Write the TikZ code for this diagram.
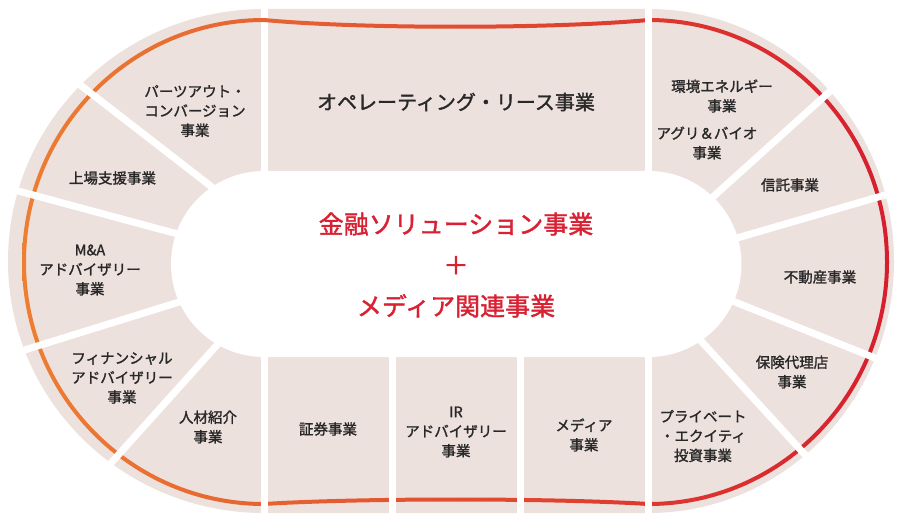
\documentclass[tikz,border=0pt]{standalone}
\usepackage{fontspec}
\setmainfont{Noto Sans CJK JP}
\newfontfamily\segfont{Noto Sans CJK JP}[FakeBold=1.5]
\usepackage{tikz}
\definecolor{segpink}{RGB}{237,225,222}
\definecolor{ringorange}{RGB}{237,126,50}
\definecolor{ringred}{RGB}{215,30,46}
\definecolor{titlered}{RGB}{217,33,52}
\definecolor{segtext}{RGB}{40,40,40}
\tikzstyle{segname} = [text=segtext, align=center, inner sep=0pt, font=\segfont\fontsize{14.5}{19.5}\selectfont]
\tikzstyle{bigname} = [text=segtext, align=center, inner sep=0pt, font=\segfont\fontsize{20}{24}\selectfont]
\tikzstyle{maintitle} = [text=titlered, align=center, inner sep=0pt, font=\segfont\fontsize{25}{41}\selectfont]
\tikzstyle{gap} = [draw=white, line width=7pt]

\begin{document}
\begin{tikzpicture}[x=1pt,y=1pt]
        \useasboundingbox (0,0) rectangle (897,515);
        \fill[white] (0,0) rectangle (897,515);
        \fill[segpink] (264,506) arc[start angle=90, end angle=270, x radius=256, y radius=252] -- (648.5,2) arc[start angle=-90, end angle=90, x radius=245.5, y radius=252] -- cycle;
        \fill[white] (264,344) arc[start angle=90, end angle=270, radius=93] -- (648.5,158) arc[start angle=-90, end angle=90, radius=93] -- cycle;
        \draw[gap] (264,300) -- (264,520);

        \shade[left color=ringorange, right color=ringred, even odd rule]
                (264,497) arc[start angle=90, end angle=270, x radius=242, y radius=244] .. controls (360,15) and (550,15) .. (648.5,9) arc[start angle=-90, end angle=90, x radius=240.5, y radius=244] .. controls (550,488) and (360,488) .. (264,497) -- cycle
                (264,493) arc[start angle=90, end angle=270, x radius=238, y radius=240] .. controls (360,19) and (550,19) .. (648.5,13) arc[start angle=-90, end angle=90, x radius=236.5, y radius=240] .. controls (550,484) and (360,484) .. (264,493) -- cycle;

        \draw[gap] (257,293) -- (39,462);
        \draw[gap] (237,265) -- (-4,330);
        \draw[gap] (234,230) -- (2,158);
        \draw[gap] (248.5,205) -- (80.5,18);
        \draw[gap] (264,200) -- (264,-5);
        \draw[gap] (392.5,200) -- (392.5,-5);
        \draw[gap] (520.5,200) -- (520.5,-5);
        \draw[gap] (648.5,200) -- (648.5,-5);
        \draw[gap] (648.5,300) -- (648.5,520);
        \draw[gap] (678.5,287) -- (862.5,453);
        \draw[gap] (690.5,263.5) -- (907.5,326.5);
        \draw[gap] (690,231) -- (900,147);
        \draw[gap] (670,208) -- (840,22);

        \node (oplease) [bigname] at (456,413) {オペレーティング・リース事業};
        \node (parts) [segname] at (195,404) {パーツアウト・\\コンバージョン\\事業};
        \node (listing) [segname] at (112.5,337) {上場支援事業};
        \node (manda) [segname] at (90,245) {M\&A\\アドバイザリー\\事業};
        \node (finadv) [segname] at (122,137) {フィナンシャル\\アドバイザリー\\事業};
        \node (recruit) [segname] at (208,88) {人材紹介\\事業};
        \node (securities) [segname] at (328,86) {証券事業};
        \node (iradv) [segname] at (456,83) {IR\\アドバイザリー\\事業};
        \node (media) [segname] at (584,80) {メディア\\事業};
        \node (pequity) [segname] at (703,79) {プライベート\\・エクイティ\\投資事業};
        \node (insurance) [segname] at (792,143) {保険代理店\\事業};
        \node (realestate) [segname] at (820,238) {不動産事業};
        \node (trust) [segname] at (790,330) {信託事業};
        \node (energy) [segname] at (722,419) {環境エネルギー\\事業};
        \node (agri) [segname] at (707,372) {アグリ＆バイオ\\事業};

        \node (core) [maintitle] at (456,250) {金融ソリューション事業\\＋\\メディア関連事業};
\end{tikzpicture}
\end{document}
